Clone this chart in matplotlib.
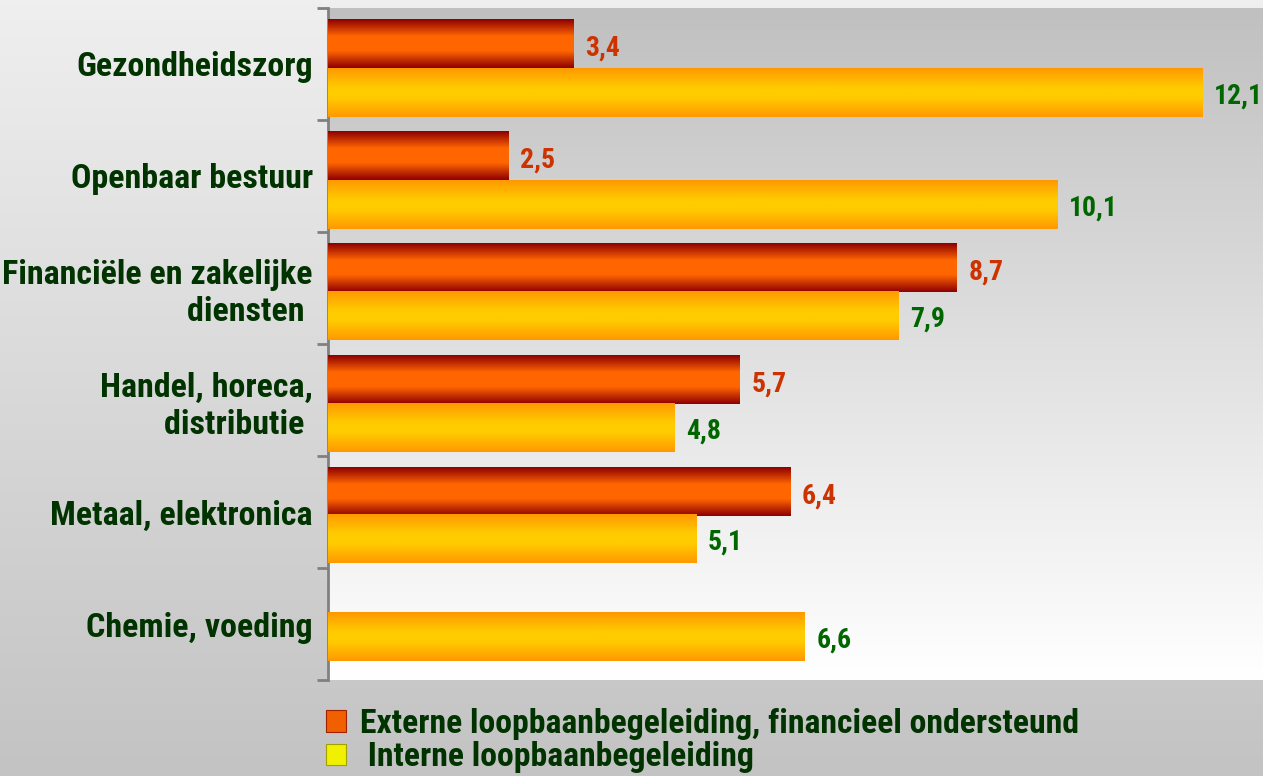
import numpy as np
import matplotlib
matplotlib.use('Agg')
import matplotlib.pyplot as plt
from matplotlib import font_manager
from matplotlib.colors import LinearSegmentedColormap
from matplotlib.patches import Patch

# data
categories = ['Gezondheidszorg', 'Openbaar bestuur', 'Financiële en zakelijke\ndiensten ',
              'Handel, horeca,\ndistributie ', 'Metaal, elektronica', 'Chemie, voeding']
extern = [3.4, 2.5, 8.7, 5.7, 6.4, None]
intern = [12.1, 10.1, 7.9, 4.8, 5.1, 6.6]
legend_labels = ['Externe loopbaanbegeleiding, financieel ondersteund',
                 ' Interne loopbaanbegeleiding']

# pick a narrow font if one is there
available = {f.name for f in font_manager.fontManager.ttflist}
narrow = next((n for n in ['Liberation Sans Narrow', 'DejaVu Sans Condensed', 'Roboto Condensed']
               if n in available), 'Liberation Sans')

green_dark = '#003300'
red_cmap = LinearSegmentedColormap.from_list(
    'red', [(0, '#900000'), (0.35, '#ff6600'), (0.65, '#ff6600'), (1, '#900000')])
yel_cmap = LinearSegmentedColormap.from_list(
    'yel', [(0, '#ff9900'), (0.4, '#ffcc00'), (0.6, '#ffcc00'), (1, '#ff9900')])

fig = plt.figure(figsize=(12.63, 7.76), dpi=100)

# figure background gradient
bg = fig.add_axes([0, 0, 1, 1], zorder=-1)
bg.imshow(np.linspace(0, 1, 256).reshape(-1, 1), aspect='auto', extent=[0, 1, 0, 1],
          cmap=LinearSegmentedColormap.from_list('bg', ['#efefef', '#c3c3c3']))
bg.axis('off')

ax = fig.add_axes([0.2597, 0.1237, 0.7403, 0.8660])
ax.patch.set_alpha(0)
xmax = 12.94

# plot area gradient gray -> white
ax.imshow(np.linspace(0, 1, 256).reshape(-1, 1), aspect='auto', extent=[0, xmax, 5.5, -0.5],
          cmap=LinearSegmentedColormap.from_list('pa', ['#c0c0c0', '#ffffff']), zorder=0)


def shade(bar, cmap):
    x0, y0, w, h = bar.get_x(), bar.get_y(), bar.get_width(), bar.get_height()
    ax.imshow(np.linspace(0, 1, 64).reshape(-1, 1), cmap=cmap, aspect='auto',
              extent=[x0, x0 + w, y0 + h, y0], zorder=3, interpolation='bilinear')


h = 0.43
ext_offset = -0.175
int_offset = [0.255, 0.255, 0.25, 0.245, 0.24, 0.116]
for i, (e, n) in enumerate(zip(extern, intern)):
    if e is not None:
        b = ax.barh(i + ext_offset, e, height=h, color='#ff6600', zorder=2)[0]
        shade(b, red_cmap)
        ax.text(e + 0.16, i + ext_offset + 0.03, str(e).replace('.', ','), va='center', ha='left',
                color='#cc3300', fontsize=20, family=narrow, fontweight='bold', zorder=4)
    b = ax.barh(i + int_offset[i], n, height=h, color='#ffcc00', zorder=2)[0]
    shade(b, yel_cmap)
    ax.text(n + 0.16, i + int_offset[i] + 0.03, str(n).replace('.', ','), va='center', ha='left',
            color='#006600', fontsize=20, family=narrow, fontweight='bold', zorder=4)

ax.set_xlim(0, xmax)
ax.set_ylim(5.5, -0.5)

for s in ['top', 'right', 'bottom']:
    ax.spines[s].set_visible(False)
ax.spines['left'].set_color('#808080')
ax.spines['left'].set_linewidth(2)
ax.set_xticks([])
ax.set_yticks(np.arange(-0.5, 6, 1))
ax.set_yticklabels([])
ax.tick_params(axis='y', which='major', length=8, width=2, color='#808080', direction='out')
ax.set_yticks(range(len(categories)), minor=True)
ax.set_yticklabels(categories, minor=True, fontsize=24.5, family=narrow,
                   fontweight='bold', color=green_dark)
ax.tick_params(axis='y', which='minor', length=0, pad=11)

handles = [Patch(facecolor='#f06000', edgecolor='#a02000', linewidth=0.8),
           Patch(facecolor='#f0f000', edgecolor='#a0a000', linewidth=0.8)]
fig.legend(handles, legend_labels, loc='upper left', bbox_to_anchor=(0.258, 0.088),
           frameon=False, prop={'family': narrow, 'weight': 'bold', 'size': 24.3},
           labelcolor=green_dark, handlelength=0.6, handleheight=0.6,
           handletextpad=0.4, labelspacing=0.05, borderpad=0, borderaxespad=0)

fig.savefig('out.png', dpi=100)
